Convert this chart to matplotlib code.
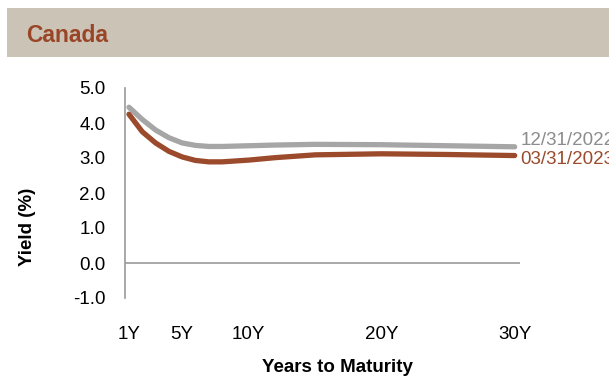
import matplotlib.pyplot as plt
from matplotlib.patches import Rectangle

# Canadian government yield curves (%)
maturities = [1, 2, 3, 4, 5, 6, 7, 8, 10, 12, 15, 20, 25, 30]
yield_2022 = [4.45, 4.10, 3.80, 3.58, 3.43, 3.36, 3.33, 3.33, 3.35, 3.37, 3.39, 3.38, 3.35, 3.32]
yield_2023 = [4.25, 3.75, 3.43, 3.19, 3.03, 2.93, 2.89, 2.89, 2.94, 3.01, 3.09, 3.12, 3.10, 3.07]
series_labels = ["12/31/2022", "03/31/2023"]

tick_years = [1, 5, 10, 20, 30]
tick_labels = ["1Y", "5Y", "10Y", "20Y", "30Y"]
y_ticks = [-1, 0, 1, 2, 3, 4, 5]

GREY = "#a6a6a6"
BROWN = "#9b4a2c"
BAND = "#cbc4b6"
FONT = "Liberation Sans"

plt.rcParams["font.family"] = FONT

fig = plt.figure(figsize=(6.09, 3.78), dpi=100)

# header band with country name
fig.patches.append(Rectangle((7 / 609, 1 - 57 / 378), 1, 49 / 378,
                             transform=fig.transFigure, facecolor=BAND,
                             edgecolor="none", zorder=0))
fig.text(26 / 609, 1 - 35 / 378, "Canada", color="#9a4527", fontsize=16.5,
         fontweight="bold", va="center", ha="left")

ax = fig.add_axes([125 / 609, 1 - 298 / 378, 395 / 609, 210 / 378])
ax.set_xlim(0.7, 30.4)
ax.set_ylim(-1, 5)

ax.plot(maturities, yield_2022, color=GREY, lw=3.8, solid_capstyle="round",
        solid_joinstyle="round", zorder=3)
ax.plot(maturities, yield_2023, color=BROWN, lw=3.8, solid_capstyle="round",
        solid_joinstyle="round", zorder=4)

ax.annotate(series_labels[0], (maturities[-1], yield_2022[-1]),
            textcoords="offset points", xytext=(4, 4.5), color="#8c8c8c",
            fontsize=13.5, ha="left", va="center", annotation_clip=False)
ax.annotate(series_labels[1], (maturities[-1], yield_2023[-1]),
            textcoords="offset points", xytext=(4, -3), color=BROWN,
            fontsize=13.5, ha="left", va="center", annotation_clip=False)

ax.axhline(0, color="#999999", lw=1.2, zorder=2)
for side in ["top", "right", "bottom"]:
    ax.spines[side].set_visible(False)
ax.spines["left"].set_color("#999999")
ax.spines["left"].set_linewidth(1.2)

ax.set_yticks(y_ticks)
ax.set_yticklabels([f"{v:.1f}" for v in y_ticks])
ax.set_xticks(tick_years)
ax.set_xticklabels(tick_labels)
ax.tick_params(axis="y", length=0, pad=14, labelsize=13.5)
ax.tick_params(axis="x", length=0, pad=20, labelsize=13.5)

fig.text(28 / 609, 1 - 227 / 378, "Yield (%)", rotation=90, fontsize=13.5,
         fontweight="bold", ha="center", va="center")
fig.text(337 / 609, 1 - 367 / 378, "Years to Maturity", fontsize=13.5,
         fontweight="bold", ha="center", va="center")

fig.savefig("out.png", dpi=100)
